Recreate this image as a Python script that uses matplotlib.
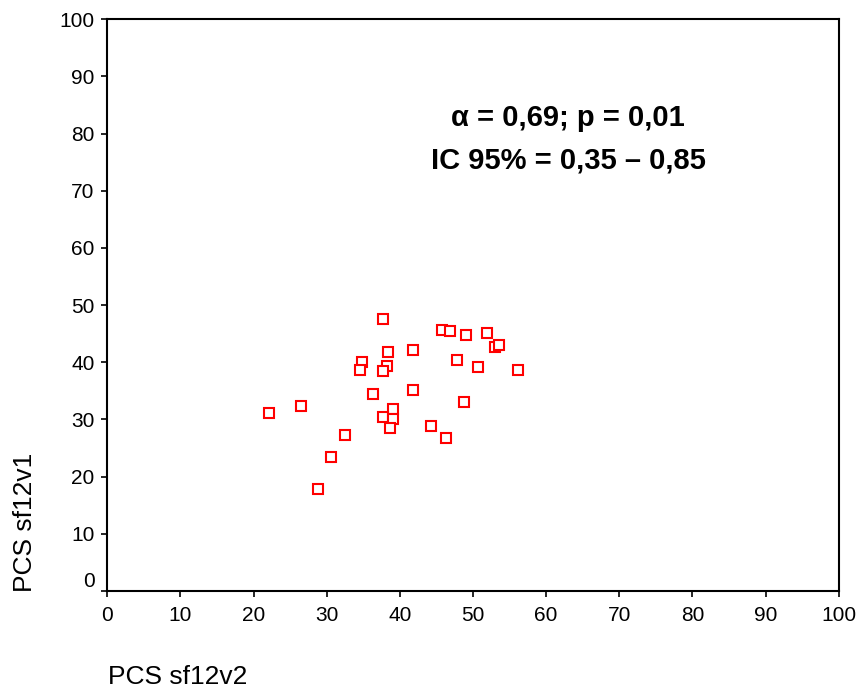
import matplotlib
matplotlib.use("Agg")
import matplotlib.pyplot as plt
import matplotlib.transforms as mtransforms

plt.rcParams['font.family'] = ['Liberation Sans', 'DejaVu Sans']

# PCS sf12v2 (x) vs PCS sf12v1 (y)
pcs_v2 = [37.7, 45.7, 46.8, 49.1, 51.9, 53.0, 53.5, 38.4, 41.8, 34.8,
          34.6, 38.2, 37.7, 47.8, 50.7, 56.1, 36.4, 41.8, 22.1, 26.5,
          39.0, 37.7, 39.0, 48.8, 38.7, 44.2, 46.3, 32.5, 30.6, 28.8]
pcs_v1 = [47.6, 45.7, 45.4, 44.7, 45.1, 42.7, 43.0, 41.8, 42.1, 40.1,
          38.7, 39.4, 38.4, 40.4, 39.1, 38.7, 34.4, 35.1, 31.1, 32.4,
          31.8, 30.4, 30.1, 33.1, 28.5, 28.8, 26.8, 27.2, 23.5, 17.8]
ticks = list(range(0, 101, 10))

fig = plt.figure(figsize=(8.58, 6.88), dpi=100)
ax = fig.add_axes([0.125, 0.141, 0.8525, 0.831])

ax.plot(pcs_v2, pcs_v1, linestyle='none', marker='s', markersize=6.5,
        markerfacecolor='white', markeredgecolor='red', markeredgewidth=1.5)

ax.set_xlim(0, 100)
ax.set_ylim(0, 100)
ax.set_xticks(ticks)
ax.set_yticks(ticks)
ax.tick_params(direction='out', length=4, width=1.2, labelsize=15)
ax.tick_params(axis='x', pad=6.5)
ax.tick_params(axis='y', pad=5)
for sp in ax.spines.values():
    sp.set_linewidth(1.5)

# the "0" on the y axis sits a bit higher in the original
lab0 = ax.get_yticklabels()[0]
lab0.set_transform(lab0.get_transform() +
                   mtransforms.ScaledTranslation(0, 11 / 100, fig.dpi_scale_trans))

ax.text(0.63, 0.827, "α = 0,69; p = 0,01", transform=ax.transAxes,
        ha='center', va='center', fontsize=21, fontweight='bold')
ax.text(0.63, 0.753, "IC 95% = 0,35 – 0,85", transform=ax.transAxes,
        ha='center', va='center', fontsize=21, fontweight='bold')

fig.text(108 / 858, 1 - 677 / 688, "PCS sf12v2", ha='left', va='center', fontsize=19)
fig.text(25 / 858, 1 - 592 / 688, "PCS sf12v1", ha='center', va='bottom',
         rotation=90, fontsize=19)

fig.savefig("out.png", dpi=100)
